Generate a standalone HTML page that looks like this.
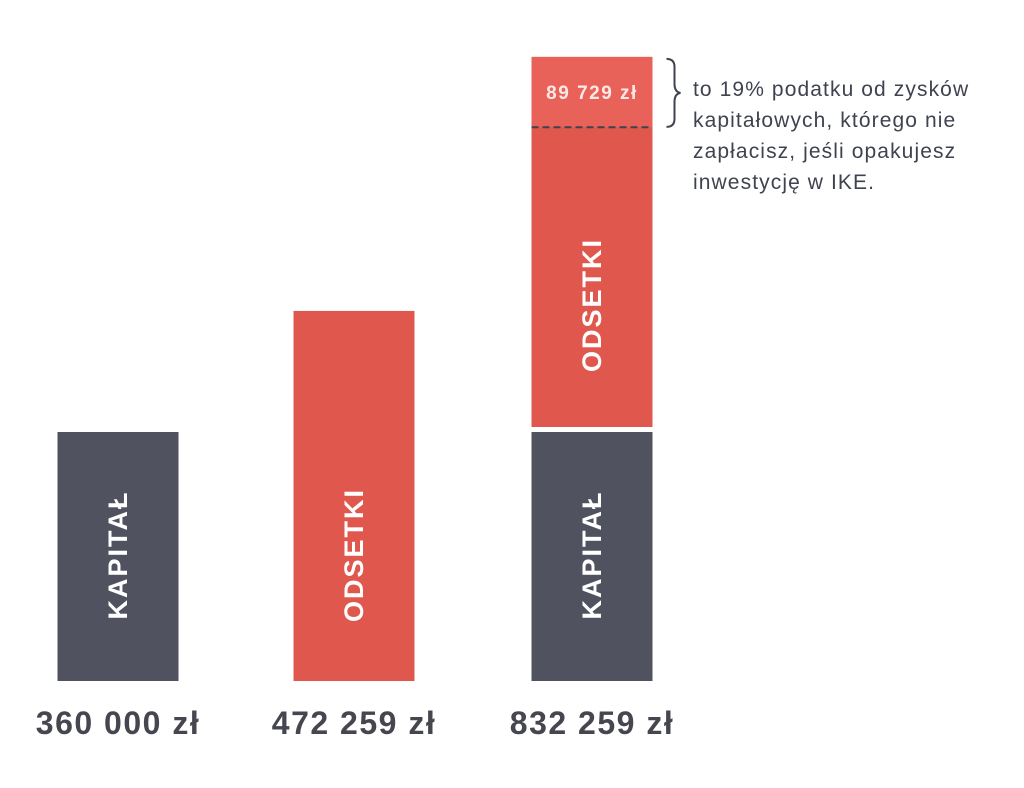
<!DOCTYPE html>
<html><head><meta charset="utf-8"><style>
html,body{margin:0;padding:0;background:#fff;width:1024px;height:788px;overflow:hidden}
svg{display:block}
text{font-family:"Liberation Sans","DejaVu Sans",sans-serif}
</style></head><body>
<svg id="chart" width="1024" height="788" viewBox="0 0 1024 788" xmlns="http://www.w3.org/2000/svg"></svg>
<script>
const categories = ["360 000 zł", "472 259 zł", "832 259 zł"];
const kapital = [360000, 0, 360000];
const odsetki = [0, 472259, 472259];
const tax = [0, 0, 89729];
const taxLabel = "89 729 zł";

const NS = "http://www.w3.org/2000/svg";
const svg = document.getElementById("chart");
const baseY = 681;
const barW = 121;
const xCenters = [118, 354, 592];
function x(i){ return xCenters[i] - barW/2; }
// non-linear height scale fit to the illustration
function h(v){ return v <= 0 ? 0 : 249 * Math.pow(v/360000, 1.46); }
function mk(tag, attrs, parent){
  const e = document.createElementNS(NS, tag);
  for (const k in attrs) e.setAttribute(k, attrs[k]);
  (parent||svg).appendChild(e);
  return e;
}
function vlabel(txt, cx, cy, name){
  const t = mk("text", {x:0, y:0, transform:`translate(${cx},${cy}) rotate(-90)`, "text-anchor":"middle", "dominant-baseline":"central", fill:"#fff", "font-size":"27", "font-weight":"bold", "letter-spacing":"2"});
  
  
  t.textContent = txt;
}
for (let i = 0; i < categories.length; i++){
  const hk = h(kapital[i]);
  if (hk > 0){
    const r = mk("rect", {x:x(i), y:baseY-hk, width:barW, height:hk, fill:"#515260"});
    
    
    vlabel("KAPITAŁ", xCenters[i], Math.min(555, baseY - hk/2), 'kapital-label-' + (i+1));
  }
  const ho = h(odsetki[i]);
  if (ho > 0){
    const gap = hk > 0 ? 5 : 0;
    const top = baseY - hk - gap - ho;
    const r = mk("rect", {x:x(i), y:top, width:barW, height:ho, fill:"#e0584d"});
    
    
    const ht = ho * tax[i] / odsetki[i];
    if (ht > 0){
      const tr = mk("rect", {x:x(i), y:top, width:barW, height:ht, fill:"#e9625a"});
      
      
      const ln = mk("line", {x1:x(i), x2:x(i)+barW, y1:top+ht, y2:top+ht, stroke:"#3f4350", "stroke-width":"2", "stroke-dasharray":"7 4"});
      
      
      const tl = mk("text", {x:xCenters[i], y:top+ht/2+7, "text-anchor":"middle", fill:"#fbe9e6", "font-size":"19", "font-weight":"bold", "letter-spacing":"1.5"});
      
      
      tl.textContent = taxLabel;
      const br = mk("path", {d:`M${x(i)+barW+14},${top+2} q8,0 8,8 v17 q0,8 6,9 q-6,1 -6,9 v17 q0,8 -8,8`, fill:"none", stroke:"#3f4350", "stroke-width":"2"});
      
      
      const ann = mk("text", {x:693, y:96, fill:"#3f4350", "font-size":"21", "letter-spacing":"1.1"});
      
      
      ["to 19% podatku od zysków","kapitałowych, którego nie","zapłacisz, jeśli opakujesz","inwestycję w IKE."].forEach((s,k)=>{
        const ts = mk("tspan", {x:693, y:96 + k*31}, ann);
        ts.textContent = s;
      });
    }
    const cy = hk > 0 ? 305 : 555;
    vlabel("ODSETKI", xCenters[i], cy, 'odsetki-label-' + (i+1));
  }
  const lab = mk("text", {x:xCenters[i], y:734, "text-anchor":"middle", fill:"#45464f", "font-size":"32", "font-weight":"bold", "letter-spacing":"1.5"});
  
  
  lab.textContent = categories[i];
}
</script>
</body></html>
